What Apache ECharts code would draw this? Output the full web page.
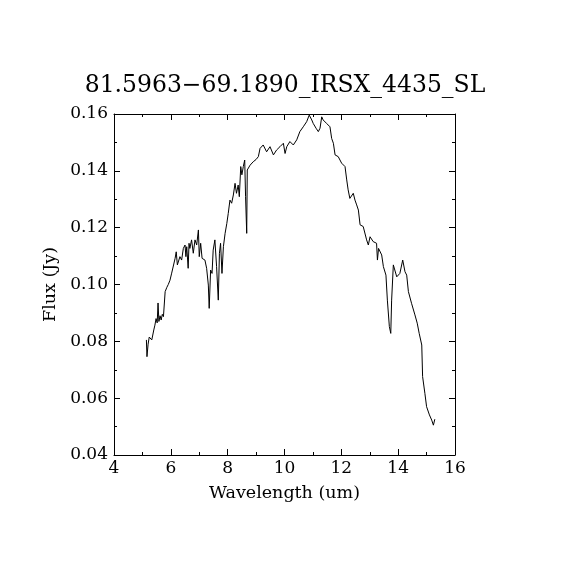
<!DOCTYPE html>
<html>
<head>
<meta charset="utf-8">
<script src="https://cdn.jsdelivr.net/npm/echarts@6/dist/echarts.min.js"></script>
<style>
  html, body { margin: 0; padding: 0; background: #fff; }
  #chart { width: 570px; height: 570px; }
</style>
</head>
<body>
<div id="chart"></div>
<script>
const titleText = "81.5963\u221269.1890_IRSX_4435_SL";

// wavelength (um) and flux (Jy)
const wavelength = [
  5.14, 5.16, 5.20, 5.24, 5.30, 5.33, 5.40, 5.44, 5.48, 5.52, 5.55, 5.58, 5.62, 5.66, 5.70, 5.74,
  5.80, 5.86, 5.91, 5.97, 6.03, 6.09, 6.15, 6.19, 6.23, 6.26, 6.32, 6.38, 6.44, 6.50, 6.53, 6.56,
  6.61, 6.64, 6.67, 6.73, 6.79, 6.85, 6.91, 6.97, 7.00, 7.05, 7.10, 7.14, 7.20, 7.26, 7.32, 7.35,
  7.40, 7.45, 7.49, 7.55, 7.61, 7.67, 7.71, 7.75, 7.80, 7.85, 7.91, 7.97, 8.02, 8.08, 8.14, 8.20,
  8.26, 8.31, 8.37, 8.41, 8.46, 8.50, 8.55, 8.60, 8.63, 8.67, 8.69, 8.79, 8.90, 9.00, 9.08, 9.14,
  9.25, 9.37, 9.49, 9.61, 9.72, 9.84, 9.96, 10.02, 10.08, 10.19, 10.31, 10.43, 10.54, 10.66, 10.78,
  10.87, 10.96, 11.01, 11.11, 11.19, 11.25, 11.31, 11.36, 11.48, 11.60, 11.66, 11.72, 11.78, 11.89,
  11.95, 12.01, 12.13, 12.19, 12.24, 12.30, 12.36, 12.42, 12.48, 12.54, 12.60, 12.66, 12.77, 12.83,
  12.89, 12.95, 13.01, 13.12, 13.24, 13.27, 13.31, 13.38, 13.42, 13.48, 13.57, 13.62, 13.69, 13.74,
  13.77, 13.83, 13.89, 13.95, 14.00, 14.06, 14.12, 14.16, 14.24, 14.30, 14.36, 14.42, 14.47, 14.59,
  14.67, 14.74, 14.83, 14.86, 14.94, 15.00, 15.10, 15.18, 15.24, 15.29
];
const flux = [
  0.0805, 0.0746, 0.0790, 0.0815, 0.0820, 0.0805, 0.0840, 0.0857, 0.0880, 0.0865, 0.0935, 0.0870, 0.0890, 0.0875, 0.0895, 0.0887,
  0.0975, 0.0990, 0.1000, 0.1015, 0.1040, 0.1045, 0.1092, 0.1115, 0.1069, 0.1063, 0.1098, 0.1086, 0.1127, 0.1139, 0.1098, 0.1133,
  0.1057, 0.1145, 0.1127, 0.1157, 0.1110, 0.1157, 0.1139, 0.1192, 0.1098, 0.1145, 0.1092, 0.1098, 0.1086, 0.1057, 0.0998, 0.0916,
  0.1051, 0.1039, 0.1121, 0.1157, 0.1063, 0.0945, 0.1110, 0.1145, 0.1039, 0.1133, 0.1180, 0.1215, 0.1250, 0.1297, 0.1286, 0.1315,
  0.1356, 0.1321, 0.1350, 0.1309, 0.1415, 0.1386, 0.1415, 0.1438, 0.1309, 0.1180, 0.1403, 0.1420, 0.1432, 0.1440, 0.1450, 0.1479,
  0.1491, 0.1467, 0.1485, 0.1456, 0.1473, 0.1485, 0.1497, 0.1461, 0.1485, 0.1503, 0.1491, 0.1509, 0.1538, 0.1555, 0.1573,
  0.1596, 0.1579, 0.1567, 0.1550, 0.1538, 0.1550, 0.1590, 0.1579, 0.1567, 0.1555, 0.1514, 0.1497, 0.1456, 0.1450,
  0.1456, 0.1427, 0.1415, 0.1368, 0.1333, 0.1303, 0.1309, 0.1321, 0.1297, 0.1280, 0.1262, 0.1210, 0.1204, 0.1204,
  0.1157, 0.1139, 0.1168, 0.1151, 0.1145, 0.1086, 0.1127, 0.1121, 0.1104, 0.1063, 0.1033, 0.0945, 0.0852, 0.0828,
  0.0945, 0.1069, 0.1069, 0.1027, 0.1022, 0.1039, 0.1045, 0.1086, 0.1045, 0.1033, 0.0975, 0.0971, 0.0934, 0.0893,
  0.0864, 0.0828, 0.0787, 0.0676, 0.0617, 0.0570, 0.0541, 0.0523, 0.0505, 0.0526
];

const xTicks = { min: 4, max: 16, interval: 2 };
const yTicks = { min: 0.04, max: 0.16, interval: 0.02 };

const chart = echarts.init(document.getElementById("chart"));

const font = "DejaVu Serif";
const labelStyle = { color: "#000", fontFamily: font, fontSize: 17 };
const lineStyle = { color: "#000", width: 1 };

function axisBase(extra) {
  return Object.assign({
    type: "value",
    axisLine: { show: true, onZero: false, lineStyle },
    axisTick: { show: true, inside: true, length: 6, lineStyle },
    minorTick: { show: true, splitNumber: 2, length: 3, lineStyle },
    splitLine: { show: false },
    minorSplitLine: { show: false },
  }, extra);
}

chart.setOption({
  animation: false,
  backgroundColor: "#fff",
  title: {
    text: titleText,
    left: "center",
    top: 69,
    textStyle: { color: "#000", fontFamily: font, fontSize: 23.5, fontWeight: "normal" },
  },
  grid: { left: 114, right: 115, top: 114, bottom: 115 },
  xAxis: [
    axisBase({
      min: xTicks.min, max: xTicks.max, interval: xTicks.interval,
      position: "bottom",
      name: "Wavelength (um)",
      nameLocation: "middle",
      nameGap: 29,
      nameTextStyle: { color: "#000", fontFamily: font, fontSize: 17.5 },
      axisLabel: Object.assign({ margin: 5 }, labelStyle),
    }),
    axisBase({
      min: xTicks.min, max: xTicks.max, interval: xTicks.interval,
      position: "top",
      axisLabel: { show: false },
    }),
  ],
  yAxis: [
    axisBase({
      min: yTicks.min, max: yTicks.max, interval: yTicks.interval,
      position: "left",
      name: "Flux (Jy)",
      nameLocation: "middle",
      nameGap: 55,
      nameTextStyle: { color: "#000", fontFamily: font, fontSize: 17.5 },
      axisLabel: Object.assign({ margin: 6, formatter: (v) => v.toFixed(2) }, labelStyle),
    }),
    axisBase({
      min: yTicks.min, max: yTicks.max, interval: yTicks.interval,
      position: "right",
      axisLabel: { show: false },
    }),
  ],
  series: [
    {
      type: "line",
      xAxisIndex: 0,
      yAxisIndex: 0,
      showSymbol: false,
      symbol: "none",
      lineStyle: { color: "#000", width: 1 },
      data: wavelength.map((w, i) => [w, flux[i]]),
    },
  ],
});
</script>
</body>
</html>
